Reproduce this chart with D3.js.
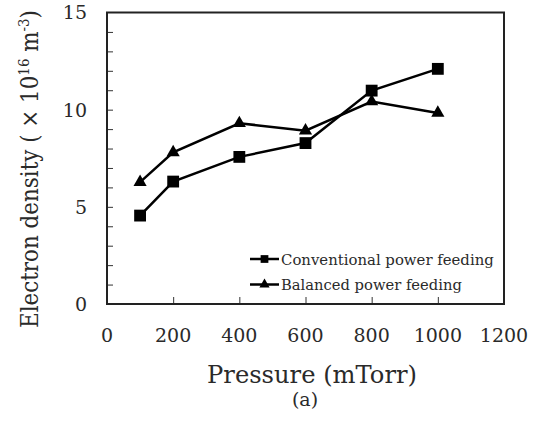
<!DOCTYPE html>
<html><head><meta charset="utf-8">
<script src="https://cdn.jsdelivr.net/npm/d3@7"></script>
<style>body{margin:0;background:#fff}</style>
</head><body>
<svg id="c" width="537" height="432"></svg>
<script>
const pressure = [100, 200, 400, 600, 800, 1000];
const conventional = [4.55, 6.3, 7.57, 8.28, 10.98, 12.1];
const balanced = [6.27, 7.8, 9.3, 8.92, 10.42, 9.83];
const seriesNames = ["Conventional power feeding", "Balanced power feeding"];
const xTicks = [0, 200, 400, 600, 800, 1000, 1200];
const yTicks = [0, 5, 10, 15];

const svg = d3.select("#c");
const font = "'DejaVu Serif', serif";
const ink = "#2a2a2a";
const L = 107, R = 504, T = 12.5, B = 304;
const x = d3.scaleLinear().domain([0, 1200]).range([L, R]);
const y = d3.scaleLinear().domain([0, 15]).range([B, T]);

// fit a text element's width to a target length by scaling along its reading direction
function fit(sel, target, cx, cy, rot) {
  const w = sel.node().getBBox().width;
  const k = target / w;
  sel.attr("transform", `translate(${cx},${cy}) rotate(${rot}) scale(${k},1)`);
}

// ticks inside
const yAxis = d3.axisRight(y).tickValues(d3.range(1, 15)).tickSize(6).tickFormat("");
svg.append("g").attr("transform", `translate(${L},0)`).call(yAxis)
  .call(g => { g.select(".domain").remove(); g.selectAll("line").attr("stroke", "#333").attr("stroke-width", 1); });
const xAxis = d3.axisTop(x).tickValues(d3.range(200, 1200, 200)).tickSize(7).tickFormat("");
svg.append("g").attr("transform", `translate(0,${B})`).call(xAxis)
  .call(g => { g.select(".domain").remove(); g.selectAll("line").attr("stroke", "#333").attr("stroke-width", 1); });

// frame
svg.append("rect").attr("x", L).attr("y", T).attr("width", R - L).attr("height", B - T)
  .attr("fill", "none").attr("stroke", "#222").attr("stroke-width", 2);

// tick labels
svg.append("g").selectAll("text").data(yTicks).join("text")
  .attr("x", 87).attr("y", d => y(d)).attr("dy", "0.36em").attr("text-anchor", "end")
  .attr("font-family", font).attr("font-size", 19).attr("fill", ink).text(d => d);
svg.append("g").selectAll("text").data(xTicks).join("text")
  .attr("x", d => x(d)).attr("y", 342).attr("text-anchor", "middle")
  .attr("font-family", font).attr("font-size", 19).attr("fill", ink).text(d => d);

// lines
const line = d3.line().x((d, i) => x(pressure[i])).y(d => y(d));
[conventional, balanced].forEach(s => {
  svg.append("path").datum(s).attr("d", line).attr("fill", "none")
    .attr("stroke", "#000").attr("stroke-width", 2.5);
});
const sq = d3.symbol().type(d3.symbolSquare).size(140);
const tri = d3.symbol().type(d3.symbolTriangle).size(75);
svg.append("g").selectAll("path").data(conventional).join("path")
  .attr("transform", (d, i) => `translate(${x(pressure[i])},${y(d)})`).attr("d", sq).attr("fill", "#000");
svg.append("g").selectAll("path").data(balanced).join("path")
  .attr("transform", (d, i) => `translate(${x(pressure[i])},${y(d)})`).attr("d", tri).attr("fill", "#000");

// legend
const leg = svg.append("g");
const rows = [{name: seriesNames[0], sym: d3.symbol().type(d3.symbolSquare).size(60), ly: 259, ty: 265, w: 213},
              {name: seriesNames[1], sym: d3.symbol().type(d3.symbolTriangle).size(45), ly: 284.5, ty: 290, w: 181}];
rows.forEach(r => {
  leg.append("line").attr("x1", 250).attr("x2", 279).attr("y1", r.ly).attr("y2", r.ly)
    .attr("stroke", "#000").attr("stroke-width", 2.5);
  leg.append("path").attr("d", r.sym).attr("transform", `translate(264.5,${r.ly})`).attr("fill", "#000");
  const t = leg.append("text").attr("font-family", font).attr("font-size", 15.5)
    .attr("fill", ink).text(r.name);
  fit(t, r.w, 281, r.ty, 0);
});

// axis titles
const xt = svg.append("text").attr("text-anchor", "middle")
  .attr("font-family", font).attr("font-size", 24).attr("fill", ink).text("Pressure (mTorr)");
fit(xt, 210, 312, 383, 0);
svg.append("text").attr("x", 305).attr("y", 406).attr("text-anchor", "middle")
  .attr("font-family", font).attr("font-size", 19).attr("fill", ink).text("(a)");

const yt = svg.append("text")
  .attr("text-anchor", "middle").attr("font-family", font).attr("font-size", 24).attr("fill", ink);
yt.append("tspan").text("Electron density ( \u00d7 10");
yt.append("tspan").attr("dy", -9).attr("font-size", 15).text("16");
yt.append("tspan").attr("dy", 9).text(" m");
yt.append("tspan").attr("dy", -9).attr("font-size", 15).text("-3");
yt.append("tspan").attr("dy", 9).text(")");
fit(yt, 318, 38, 169, -90);
</script>
</body></html>
